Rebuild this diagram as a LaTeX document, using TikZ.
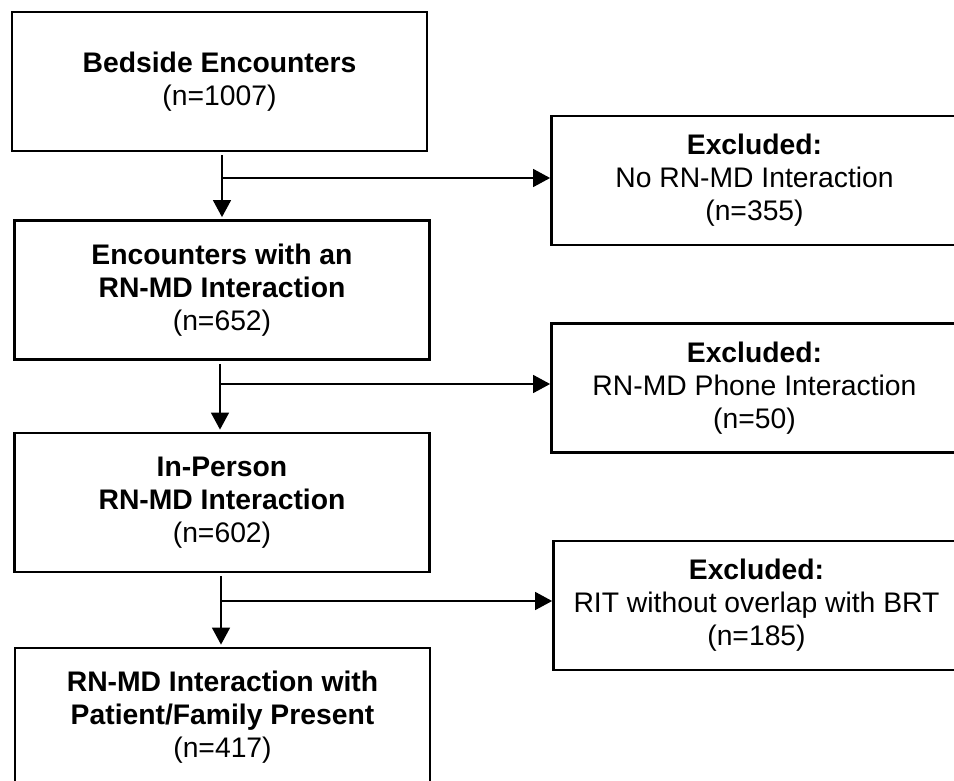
\documentclass[tikz,border=0pt]{standalone}
\usepackage{fontspec}
\setmainfont{Liberation Sans}
\usetikzlibrary{arrows.meta}
\begin{document}
\begin{tikzpicture}[x=1pt,y=-1pt,
  box/.style={draw,line width=2.8pt,align=center,inner sep=0pt,
    font=\fontsize{28.3}{33}\selectfont},
  mainbox/.style={box,minimum width=415pt,minimum height=139pt},
  exbox/.style={box,minimum width=406pt,minimum height=129pt},
  arr/.style={line width=1.5pt,-{Triangle[length=17pt,width=18pt]}}]
\useasboundingbox (0,0) rectangle (954,781);
\clip (0,0) rectangle (954,781);
\node[mainbox] (b1) at (219.5,81.5) {\textbf{Bedside Encounters}\\(n=1007)};
\node[mainbox] (b2) at (222,290) {\textbf{Encounters with an}\\\textbf{RN-MD Interaction}\\(n=652)};
\node[mainbox] (b3) at (222,502.5) {\textbf{In-Person}\\\textbf{RN-MD Interaction}\\(n=602)};
\node[mainbox] (b4) at (222.5,717.5) {\textbf{RN-MD Interaction with}\\\textbf{Patient/Family Present}\\(n=417)};
\node[exbox] (e1) at (754.5,180.5) {\textbf{Excluded:}\\No RN-MD Interaction\\(n=355)};
\node[exbox] (e2) at (754.5,388) {\textbf{Excluded:}\\RN-MD Phone Interaction\\(n=50)};
\node[exbox] (e3) at (756.5,605.5) {\textbf{Excluded:}\\RIT without overlap with BRT\\(n=185)};
\coordinate (j1) at (222,178);
\coordinate (j2) at (220,384);
\coordinate (j3) at (221,601);
\draw[arr,shorten <=3pt,shorten >=2pt] (j1 |- b1.south) -- (j1 |- b2.north);
\draw[arr] (j1) -- (j1 -| e1.west);
\draw[arr,shorten <=3pt,shorten >=2pt] (j2 |- b2.south) -- (j2 |- b3.north);
\draw[arr] (j2) -- (j2 -| e2.west);
\draw[arr,shorten <=3pt,shorten >=2pt] (j3 |- b3.south) -- (j3 |- b4.north);
\draw[arr] (j3) -- (j3 -| e3.west);
\end{tikzpicture}
\end{document}
